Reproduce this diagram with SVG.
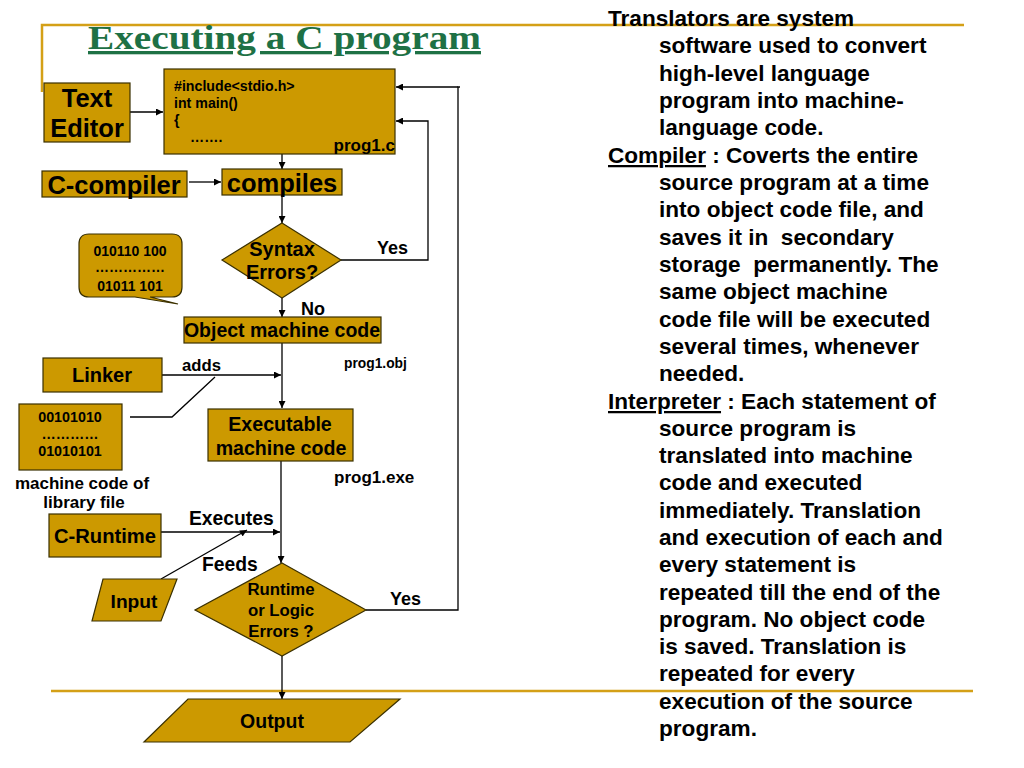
<svg xmlns="http://www.w3.org/2000/svg" width="1024" height="768" viewBox="0 0 1024 768">
<defs>
<style>
.box{fill:#CC9900;stroke:#3a3000;stroke-width:1.2}
.t{font-family:"Liberation Sans",Arial,sans-serif;font-weight:bold;fill:#000}
.c{text-anchor:middle}
.ln{fill:none;stroke:#000;stroke-width:1.3}
.gold{stroke:#D4A017;stroke-width:2.5;fill:none}
.rt{font-family:"Liberation Sans",Arial,sans-serif;font-weight:bold;font-size:22.6px;fill:#000}
</style>
<marker id="ah" viewBox="0 0 10 10" refX="10" refY="5" markerWidth="7" markerHeight="7" orient="auto" markerUnits="userSpaceOnUse">
<path d="M0,0 L10,5 L0,10 z" fill="#000"/>
</marker>
</defs>
<rect width="1024" height="768" fill="#fff"/>
<g id="frame">
<polyline class="gold" points="42,92 42,25 964,25"/>
<line class="gold" x1="51" y1="691" x2="973" y2="691"/>
</g>
<text id="title" x="88" y="49" textLength="393" lengthAdjust="spacingAndGlyphs" font-family="'Liberation Serif',serif" font-weight="bold" font-size="33" fill="#1E7145" text-decoration="underline">Executing a C program</text>

<g id="connectors">
<line class="ln" x1="130" y1="112" x2="163" y2="112" marker-end="url(#ah)"/>
<polyline class="ln" points="460,87 458,87 458,610 366,610"/>
<line class="ln" x1="458" y1="87" x2="396" y2="87" marker-end="url(#ah)"/>
<polyline class="ln" points="341,260 428,260 428,121 396,121" marker-end="url(#ah)"/>
<line class="ln" x1="282" y1="154" x2="282" y2="169" marker-end="url(#ah)"/>
<line class="ln" x1="189" y1="182" x2="221" y2="182" marker-end="url(#ah)"/>
<line class="ln" x1="282" y1="195" x2="282" y2="223" marker-end="url(#ah)"/>
<line class="ln" x1="282" y1="298" x2="282" y2="317" marker-end="url(#ah)"/>
<line class="ln" x1="282" y1="343" x2="282" y2="408" marker-end="url(#ah)"/>
<line class="ln" x1="162" y1="375" x2="281" y2="375" marker-end="url(#ah)"/>
<polyline class="ln" points="130,417 172,417 215,377"/>
<line class="ln" x1="281" y1="461" x2="281" y2="563" marker-end="url(#ah)"/>
<line class="ln" x1="161" y1="532" x2="280" y2="532" marker-end="url(#ah)"/>
<line class="ln" x1="161" y1="579" x2="247" y2="530" marker-end="url(#ah)"/>
<line class="ln" x1="282" y1="656" x2="282" y2="699" marker-end="url(#ah)"/>
<text class="t" x="377" y="254" font-size="18">Yes</text>
<text class="t" x="301" y="315" font-size="18">No</text>
<text class="t" x="182" y="371" font-size="16.7">adds</text>
<text class="t" x="189" y="525" font-size="19.3">Executes</text>
<text class="t" x="202" y="571" font-size="19.3">Feeds</text>
<text class="t" x="390" y="605" font-size="18">Yes</text>
</g>

<g id="source">
<rect class="box" x="164" y="69" width="231" height="85"/>
<text class="t" x="174" y="91" font-size="14.2">#include&lt;stdio.h&gt;</text>
<text class="t" x="174" y="108" font-size="14.2">int main()</text>
<text class="t" x="174" y="125" font-size="14.2">{</text>
<text class="t" x="190" y="142" font-size="14.2">…….</text>
<text class="t" x="395" y="151" font-size="17" text-anchor="end">prog1.c</text>
</g>
<g id="texteditor">
<rect class="box" x="44" y="83" width="86" height="59"/>
<text class="t c" x="87" y="107" font-size="25.5">Text</text>
<text class="t c" x="87" y="137" font-size="25.5">Editor</text>
</g>
<g id="ccompiler">
<rect class="box" x="42" y="171" width="145" height="26"/>
<text class="t c" x="114" y="194" font-size="25.5">C-compiler</text>
</g>
<g id="compiles">
<rect class="box" x="222" y="169" width="120" height="26"/>
<text class="t c" x="282" y="192" font-size="25.5">compiles</text>
</g>
<g id="syntax">
<polygon class="box" points="282,223 341,260 282,298 222,260"/>
<text class="t c" x="282" y="256" font-size="20">Syntax</text>
<text class="t c" x="282" y="279" font-size="20">Errors?</text>
</g>
<g id="bubble">
<path class="box" d="M89,234 H172 Q182,234 182,244 V287 Q182,297 172,297 H150 L178,304 L135,297 H89 Q79,297 79,287 V244 Q79,234 89,234 Z"/>
<text class="t c" x="130" y="256" font-size="14">010110 100</text>
<text class="t c" x="130" y="272" font-size="14">……………</text>
<text class="t c" x="130" y="291" font-size="14">01011 101</text>
</g>
<g id="object">
<rect class="box" x="184" y="317" width="197" height="26"/>
<text class="t c" x="282" y="337" font-size="19.5">Object machine code</text>
<text class="t" x="344" y="368" font-size="13.8">prog1.obj</text>
</g>
<g id="linker">
<rect class="box" x="43" y="358" width="119" height="34"/>
<text class="t c" x="102" y="382" font-size="20">Linker</text>
</g>
<g id="library">
<rect class="box" x="19" y="404" width="103" height="66"/>
<text class="t c" x="70" y="422" font-size="14.3">00101010</text>
<text class="t c" x="70" y="439" font-size="14.3">…………</text>
<text class="t c" x="70" y="456" font-size="14.3">01010101</text>
<text class="t c" x="82" y="489" font-size="17">machine code of</text>
<text class="t c" x="84" y="508" font-size="17">library file</text>
</g>
<g id="executable">
<rect class="box" x="208" y="409" width="145" height="52"/>
<text class="t c" x="280" y="431" font-size="19.6">Executable</text>
<text class="t c" x="281" y="455" font-size="19.6">machine code</text>
<text class="t" x="334" y="483" font-size="17">prog1.exe</text>
</g>
<g id="cruntime">
<rect class="box" x="49" y="514" width="112" height="43"/>
<text class="t c" x="105" y="543" font-size="20.2">C-Runtime</text>
</g>
<g id="input">
<polygon class="box" points="103,579 177,579 161,621 92,621"/>
<text class="t c" x="134" y="608" font-size="19.2">Input</text>
</g>
<g id="runtime">
<polygon class="box" points="282,563 366,610 282,656 195,610"/>
<text class="t c" x="281" y="595" font-size="16.8">Runtime</text>
<text class="t c" x="281" y="616" font-size="16.8">or Logic</text>
<text class="t c" x="281" y="637" font-size="16.8">Errors ?</text>
</g>
<g id="output">
<polygon class="box" points="188,699 400,699 350,742 144,742"/>
<text class="t c" x="272" y="728" font-size="19.5">Output</text>
</g>

<g id="description">
<text class="rt" x="608" y="26">Translators are system</text>
<text class="rt" x="659" y="53">software used to convert</text>
<text class="rt" x="659" y="81">high-level language</text>
<text class="rt" x="659" y="108">program into machine-</text>
<text class="rt" x="659" y="135">language code.</text>
<text class="rt" x="608" y="163"><tspan text-decoration="underline">Compiler</tspan> : Coverts the entire</text>
<text class="rt" x="659" y="190">source program at a time</text>
<text class="rt" x="659" y="217">into object code file, and</text>
<text class="rt" x="659" y="245" xml:space="preserve">saves it in  secondary</text>
<text class="rt" x="659" y="272" xml:space="preserve">storage  permanently. The</text>
<text class="rt" x="659" y="299">same object machine</text>
<text class="rt" x="659" y="327">code file will be executed</text>
<text class="rt" x="659" y="354">several times, whenever</text>
<text class="rt" x="659" y="381">needed.</text>
<text class="rt" x="608" y="409"><tspan text-decoration="underline">Interpreter</tspan> : Each statement of</text>
<text class="rt" x="659" y="436">source program is</text>
<text class="rt" x="659" y="463">translated into machine</text>
<text class="rt" x="659" y="490">code and executed</text>
<text class="rt" x="659" y="518">immediately. Translation</text>
<text class="rt" x="659" y="545">and execution of each and</text>
<text class="rt" x="659" y="572">every statement is</text>
<text class="rt" x="659" y="600">repeated till the end of the</text>
<text class="rt" x="659" y="627">program. No object code</text>
<text class="rt" x="659" y="654">is saved. Translation is</text>
<text class="rt" x="659" y="681">repeated for every</text>
<text class="rt" x="659" y="709">execution of the source</text>
<text class="rt" x="659" y="736">program.</text>
</g>
</svg>
